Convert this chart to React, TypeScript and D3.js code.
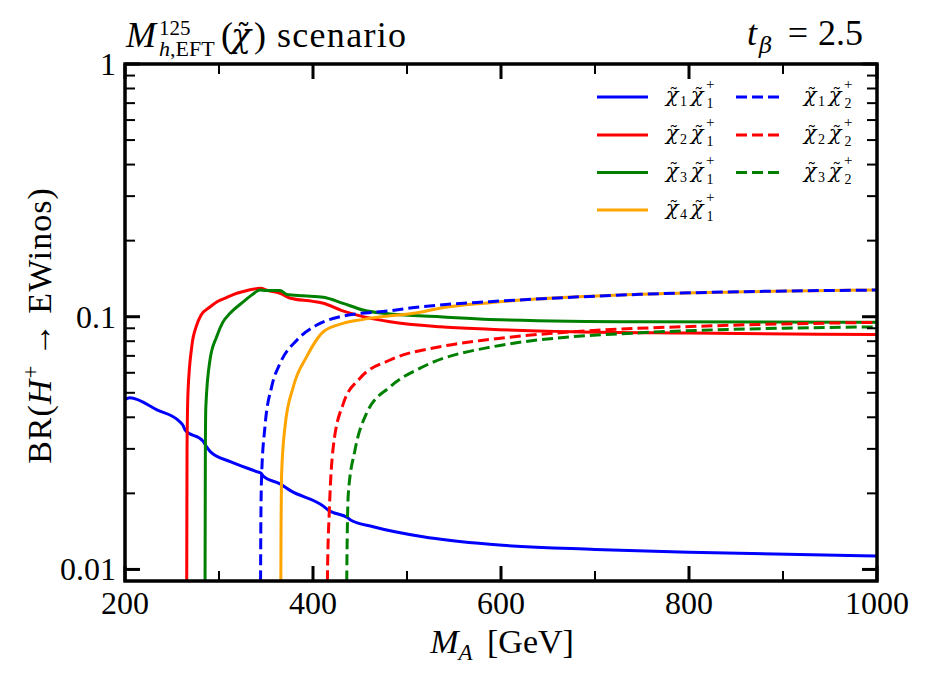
import React from 'react';
import * as d3 from 'd3';

// M_A [GeV] and BR(H+ -> EWinos) per channel
const c11M = [200, 205, 234, 258, 262, 264, 283, 287, 291, 312, 340, 345, 347, 365, 376, 411, 416, 437, 440, 464, 517, 588, 700, 800, 1000];
const c11BR = [0.0470, 0.0478, 0.0428, 0.0385, 0.0370, 0.0356, 0.0322, 0.0305, 0.0292, 0.0267, 0.0244, 0.0240, 0.0234, 0.0218, 0.0205, 0.0178, 0.0172, 0.0160, 0.0157, 0.01476, 0.01347, 0.01257, 0.0120, 0.0117, 0.0113];

const c21M = [265.5, 266, 267, 271, 276, 281, 290, 298, 308, 319, 330, 344, 352, 365, 376, 400, 411, 430, 447, 482, 535, 588, 677, 800, 1000];
const c21BR = [0.005, 0.03, 0.05, 0.076, 0.092, 0.1015, 0.109, 0.1147, 0.119, 0.1238, 0.127, 0.1295, 0.127, 0.1238, 0.1183, 0.115, 0.113, 0.106, 0.1015, 0.0955, 0.0912, 0.0892, 0.0872, 0.0862, 0.085];

const c31M = [285, 285.5, 286, 290.4, 297.5, 304, 311.7, 326, 335, 343.6, 350, 365, 372, 390, 411, 432, 453, 482, 535, 588, 748, 1000];
const c31BR = [0.005, 0.03, 0.044, 0.0674, 0.0833, 0.095, 0.1031, 0.1147, 0.122, 0.1275, 0.127, 0.127, 0.1225, 0.121, 0.1194, 0.113, 0.1063, 0.1025, 0.1, 0.0976, 0.0955, 0.095];

const c41M = [365.5, 366, 366.5, 370.2, 379, 393.3, 411, 432, 453.5, 517, 535, 588, 748, 1000];
const c41BR = [0.005, 0.015, 0.0233, 0.0367, 0.0528, 0.0695, 0.0872, 0.0941, 0.0976, 0.1047, 0.108, 0.1136, 0.1226, 0.1275];

const c12M = [344, 344.5, 345.3, 348.9, 356, 365, 383, 404, 432, 482, 517, 535, 588, 748, 1000];
const c12BR = [0.005, 0.015, 0.0233, 0.0367, 0.0528, 0.0654, 0.0809, 0.0927, 0.1006, 0.1056, 0.1097, 0.1113, 0.1147, 0.1226, 0.1275];

const c22M = [415, 415.5, 417.4, 421.6, 432.3, 450, 482, 535, 588, 677, 819, 1000];
const c22BR = [0.005, 0.01, 0.0172, 0.0306, 0.0454, 0.0571, 0.0674, 0.0761, 0.0813, 0.0872, 0.0919, 0.095];

const c32M = [435.5, 436, 437.6, 444.7, 457, 482, 517, 588, 748, 1000];
const c32BR = [0.005, 0.01, 0.02, 0.0297, 0.0415, 0.0528, 0.0634, 0.0757, 0.0864, 0.0912];

const xMajor = [200, 400, 600, 800, 1000];
const xMinor = [300, 500, 700, 900];
const yMajor = [0.01, 0.1, 1];
const yMajorLabels = ['0.01', '0.1', '1'];

type Series = { key: string; m: number[]; br: number[]; color: string; dashed: boolean; i: string; j: string };

const series: Series[] = [
  { key: 'c11', m: c11M, br: c11BR, color: '#0000ff', dashed: false, i: '1', j: '1' },
  { key: 'c21', m: c21M, br: c21BR, color: '#ff0000', dashed: false, i: '2', j: '1' },
  { key: 'c31', m: c31M, br: c31BR, color: '#008000', dashed: false, i: '3', j: '1' },
  { key: 'c41', m: c41M, br: c41BR, color: '#ffa500', dashed: false, i: '4', j: '1' },
  { key: 'c12', m: c12M, br: c12BR, color: '#0000ff', dashed: true, i: '1', j: '2' },
  { key: 'c22', m: c22M, br: c22BR, color: '#ff0000', dashed: true, i: '2', j: '2' },
  { key: 'c32', m: c32M, br: c32BR, color: '#008000', dashed: true, i: '3', j: '2' },
];

const W = 925;
const H = 680;
const margin = { left: 125, right: 48, top: 64, bottom: 99 };
const FONT = "'Liberation Serif', serif";
const GREEK = "'DejaVu Serif', serif";

// legend entry as one text: chi~_i chi~^+_j, every piece placed absolutely
const LegendLabel = ({ tx, ry, i, j }: { tx: number; ry: number; i: string; j: string }) => (
  <text fontFamily={FONT} fontSize={14}>
    <tspan x={tx + 7} y={ry + 5} fontSize={21} fontFamily={GREEK} fontStyle="italic" textAnchor="middle">χ</tspan>
    <tspan x={tx + 8.7} y={ry + 3.7} fontSize={19} fontFamily={GREEK} textAnchor="middle">˜</tspan>
    <tspan x={tx + 15} y={ry + 9}>{i}</tspan>
    <tspan x={tx + 32} y={ry + 5} fontSize={21} fontFamily={GREEK} fontStyle="italic" textAnchor="middle">χ</tspan>
    <tspan x={tx + 33.7} y={ry + 3.7} fontSize={19} fontFamily={GREEK} textAnchor="middle">˜</tspan>
    <tspan x={tx + 41} y={ry - 8} fontSize={15}>+</tspan>
    <tspan x={tx + 41.5} y={ry + 11}>{j}</tspan>
  </text>
);

export default function App() {
  const x = d3.scaleLinear().domain([200, 1000]).range([margin.left, W - margin.right]);
  const y = d3.scaleLog().domain([0.009, 1]).range([H - margin.bottom, margin.top]);
  const [x0, x1] = x.range();
  const [y0, y1] = y.range();

  const line = d3
    .line<[number, number]>()
    .x(d => x(d[0]))
    .y(d => y(d[1]))
    .curve(d3.curveMonotoneX);

  const yMinor: number[] = [];
  [0.001, 0.01, 0.1].forEach(p => {
    for (let k = 2; k <= 9; k++) {
      const v = +(k * p).toPrecision(3);
      if (v > 0.009 && v < 1) yMinor.push(v);
    }
  });

  const majLen = 15;
  const minLen = 10;

  // legend layout
  const legRows = [97, 135, 172.5, 210];
  const legCols = [
    { x0: 597, x1: 648, tx: 665 },
    { x0: 736, x1: 784, tx: 803 },
  ];
  const legendPos = (idx: number) => (idx < 4 ? { c: 0, r: idx } : { c: 1, r: idx - 4 });

  return (
    <svg width={W} height={H} style={{ display: 'block', margin: '-8px', background: '#fff' }} fontFamily={FONT}>
      <defs>
        <clipPath id="plotclip">
          <rect x={x0} y={y1} width={x1 - x0} height={y0 - y1} />
        </clipPath>
      </defs>

      {/* curves */}
      <g clipPath="url(#plotclip)">
        {series.map(s => (
          <path
            key={s.key}
            d={line(s.m.map((m, i) => [m, s.br[i]] as [number, number])) ?? ''}
            fill="none"
            stroke={s.color}
            strokeWidth={3}
            strokeDasharray={s.dashed ? '11,5' : undefined}
          />
        ))}
      </g>

      {/* ticks on all four sides, pointing in */}
      <g stroke="#000">
        {xMajor.map(v => (
          <g key={'xM' + v}>
            <line x1={x(v)} x2={x(v)} y1={y0} y2={y0 - majLen} strokeWidth={3} />
            <line x1={x(v)} x2={x(v)} y1={y1} y2={y1 + majLen} strokeWidth={3} />
          </g>
        ))}
        {xMinor.map(v => (
          <g key={'xm' + v}>
            <line x1={x(v)} x2={x(v)} y1={y0} y2={y0 - minLen} strokeWidth={2} />
            <line x1={x(v)} x2={x(v)} y1={y1} y2={y1 + minLen} strokeWidth={2} />
          </g>
        ))}
        {yMajor.map(v => (
          <g key={'yM' + v}>
            <line x1={x0} x2={x0 + majLen} y1={y(v)} y2={y(v)} strokeWidth={3} />
            <line x1={x1} x2={x1 - majLen} y1={y(v)} y2={y(v)} strokeWidth={3} />
          </g>
        ))}
        {yMinor.map(v => (
          <g key={'ym' + v}>
            <line x1={x0} x2={x0 + minLen} y1={y(v)} y2={y(v)} strokeWidth={2} />
            <line x1={x1} x2={x1 - minLen} y1={y(v)} y2={y(v)} strokeWidth={2} />
          </g>
        ))}
      </g>

      {/* frame */}
      <rect x={x0} y={y1} width={x1 - x0} height={y0 - y1} fill="none" stroke="#000" strokeWidth={3.5} />

      {/* tick labels */}
      <g fontSize={32} fill="#000">
        {xMajor.map(v => (
          <text key={'xl' + v} x={x(v)} y={y0 + 33} textAnchor="middle">
            {v}
          </text>
        ))}
        {yMajor.map((v, i) => (
          <text key={'yl' + v} x={x0 - 9} y={y(v) + 11} textAnchor="end">
            {yMajorLabels[i]}
          </text>
        ))}
      </g>

      {/* x axis label */}
      <text x={(x0 + x1) / 2 + 1} y={653} textAnchor="middle" fontSize={34}>
        <tspan fontStyle="italic">M</tspan>
        <tspan fontStyle="italic" fontSize={23} baselineShift="-7">A</tspan>
        <tspan dx="6"> [GeV]</tspan>
      </text>

      {/* y axis label */}
      <text transform={`translate(51,${(y0 + y1) / 2 + 3}) rotate(-90)`} textAnchor="middle" fontSize={34} letterSpacing={1}>
        <tspan>BR(</tspan>
        <tspan fontStyle="italic">H</tspan>
        <tspan fontSize={23} baselineShift="13">+</tspan>
        <tspan dx="8">→</tspan>
        <tspan dx="8">EWinos)</tspan>
      </text>

      {/* title */}
      <text fontSize={36}>
        <tspan x={126} y={47} fontStyle="italic">M</tspan>
        <tspan x={159} y={35} fontSize={21}>125</tspan>
        <tspan x={159} y={56} fontSize={22} fontStyle="italic">h</tspan>
        <tspan fontSize={22}>,EFT</tspan>
        <tspan x={221} y={47}>(</tspan>
        <tspan x={241} y={47} fontSize={33} fontFamily={GREEK} fontStyle="italic" textAnchor="middle">χ</tspan>
        <tspan x={243.6} y={45} fontSize={30} fontFamily={GREEK} textAnchor="middle">˜</tspan>
        <tspan x={254} y={47}>)</tspan>
      </text>
      <text x={277} y={47} fontSize={36} textLength={129} lengthAdjust="spacing">scenario</text>
      <text fontSize={36}>
        <tspan x={747} y={45} fontStyle="italic">t</tspan>
        <tspan x={759} y={53} fontSize={23} fontFamily={GREEK} fontStyle="italic">β</tspan>
        <tspan x={798} y={45} textAnchor="middle">=</tspan>
        <tspan x={863} y={45} textAnchor="end">2.5</tspan>
      </text>

      {/* legend */}
      {series.map((s, idx) => {
        const { c, r } = legendPos(idx);
        const col = legCols[c];
        const ly = legRows[r];
        return (
          <g key={'lg' + s.key}>
            <line
              x1={col.x0}
              x2={col.x1}
              y1={ly}
              y2={ly}
              stroke={s.color}
              strokeWidth={3}
              strokeDasharray={s.dashed ? '11,5' : undefined}
            />
            <LegendLabel tx={col.tx} ry={ly} i={s.i} j={s.j} />
          </g>
        );
      })}
    </svg>
  );
}
